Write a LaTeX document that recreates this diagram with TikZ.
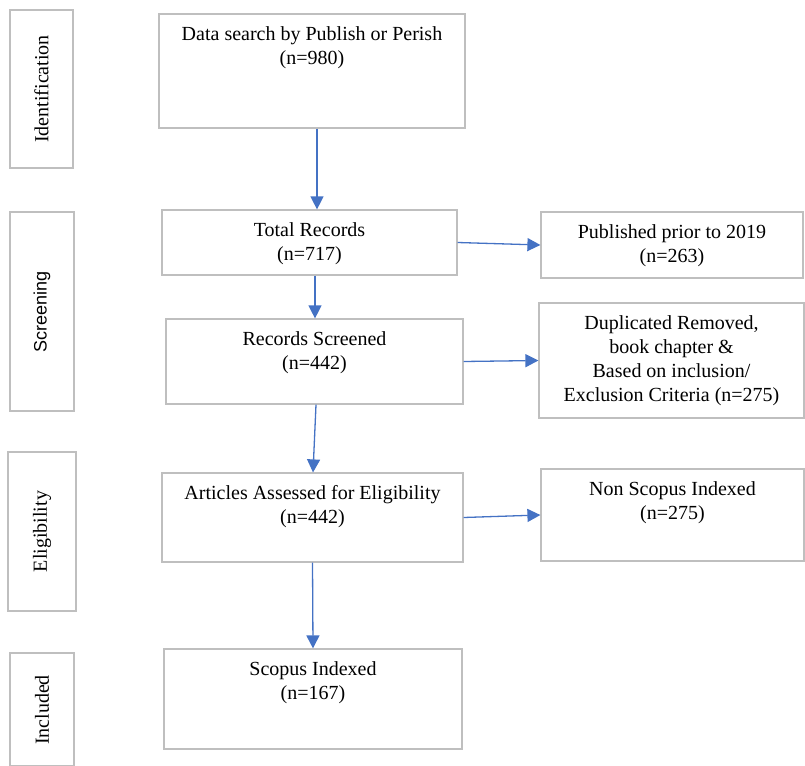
\documentclass[tikz,border=0pt]{standalone}
\usepackage{fontspec}
\setmainfont{Liberation Serif}
\newfontfamily\sidesans{Liberation Sans}
\usetikzlibrary{arrows.meta}
\definecolor{boxgray}{HTML}{BFBFBF}
\definecolor{flowblue}{HTML}{4472C4}

\begin{document}
\begin{tikzpicture}[x=1pt, y=-1pt,
  box/.style={rectangle, draw=boxgray, line width=1.2pt, inner sep=0pt},
  txt/.style={font=\fontsize{20}{24}\selectfont, align=center, inner sep=0pt},
  boxtxt/.style={txt, anchor=north, yshift=-13pt},
  flow/.style={draw=flowblue, line width=1.3pt, -{Triangle[width=13pt,length=13pt]}}]

    \useasboundingbox (0,0) rectangle (805,765);

    % phase boxes on the left
    \node[box, minimum width=63pt, minimum height=158pt] (ident) at (41.5,89) {};
    \node[txt, rotate=90] (identlbl) at (ident.center) {Identification};
    \node[box, minimum width=64pt, minimum height=199pt] (screen) at (42,311.5) {};
    \node[txt, rotate=90, font=\sidesans\fontsize{18}{22}\selectfont] (screenlbl) at (screen.center) {Screening};
    \node[box, minimum width=68pt, minimum height=159pt] (elig) at (42,531.5) {};
    \node[txt, rotate=90] (eliglbl) at (elig.center) {Eligibility};
    \node[box, minimum width=64pt, minimum height=113pt] (incl) at (42,709.5) {};
    \node[txt, rotate=90] (incllbl) at (42,710) {Included};

    % main column
    \node[box, minimum width=306pt, minimum height=114pt, label={[boxtxt]north:{Data search by Publish or Perish\\(n=980)}}] (search) at (312,71) {};
    \node[box, minimum width=295pt, minimum height=65pt, label={[boxtxt]north:{Total Records\\(n=717)}}] (total) at (309.5,242.5) {};
    \node[box, minimum width=297pt, minimum height=85pt, label={[boxtxt]north:{Records Screened\\(n=442)}}] (screened) at (314.5,361.5) {};
    \node[box, minimum width=301pt, minimum height=89pt, label={[boxtxt]north:{Articles Assessed for Eligibility\\(n=442)}}] (assessed) at (312.5,517.5) {};
    \node[box, minimum width=298pt, minimum height=100pt, label={[boxtxt]north:{Scopus Indexed\\(n=167)}}] (scopus) at (313,699) {};

    % excluded column
    \node[box, minimum width=262pt, minimum height=66pt, label={[boxtxt]north:{Published prior to 2019\\(n=263)}}] (prior) at (672,245) {};
    \node[box, minimum width=265pt, minimum height=115pt, label={[boxtxt]north:{Duplicated Removed,\\book chapter \&\\Based on inclusion/\\Exclusion Criteria (n=275)}}] (dupl) at (671.5,360.5) {};
    \node[box, minimum width=263pt, minimum height=92pt, label={[boxtxt]north:{Non Scopus Indexed\\(n=275)}}] (nonscopus) at (672.5,515) {};

    \draw[flow] ([xshift=5pt]search.south) -- ([xshift=5pt]search.south |- total.north);
    \draw[flow] ([xshift=5.5pt]total.south) -- ([xshift=5.5pt]total.south |- screened.north);
    \draw[flow] ([xshift=1.5pt]screened.south) -- ([xshift=0.5pt]assessed.north);
    \draw[flow] (assessed.south) -- (scopus.north);
    \draw[flow] (total.east) -- (prior.west);
    \draw[flow] (screened.east) -- (dupl.west);
    \draw[flow] (assessed.east) -- (nonscopus.west);

\end{tikzpicture}
\end{document}
